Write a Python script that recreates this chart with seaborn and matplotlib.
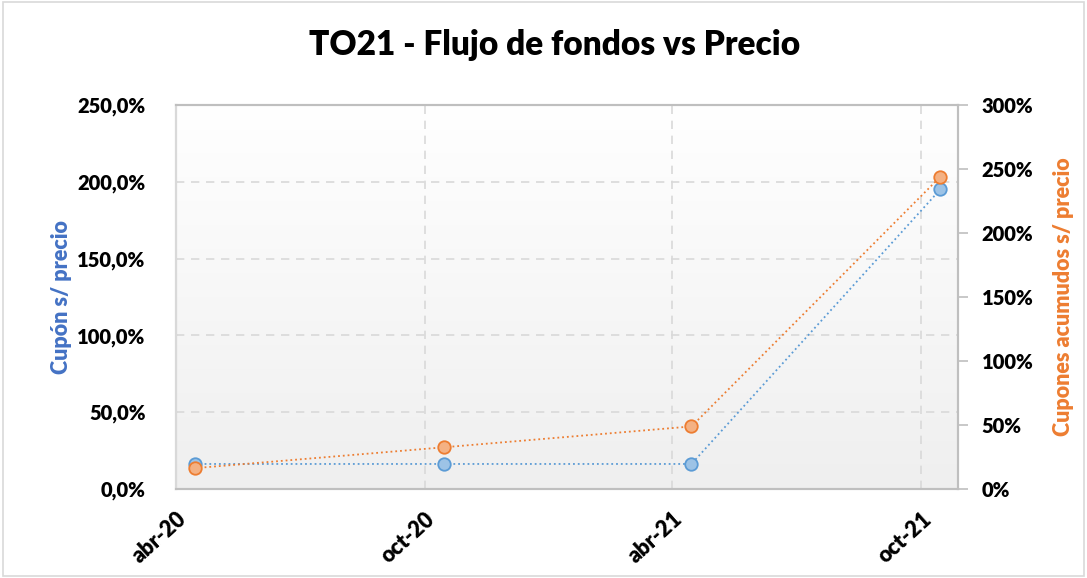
import numpy as np
import pandas as pd
import seaborn as sns
import matplotlib.pyplot as plt
from matplotlib.colors import LinearSegmentedColormap
from matplotlib.ticker import FuncFormatter, MultipleLocator

fechas = ["2020-04-15", "2020-10-15", "2021-04-15", "2021-10-15"]
cupon = [16.3, 16.3, 16.3, 195.2]          # Cupón s/ precio (%)
acumulado = [16.3, 32.6, 48.9, 244.1]      # Cupones acumulados s/ precio (%)
xticks = ["2020-04-01", "2020-10-01", "2021-04-01", "2021-10-01"]
xtick_labels = ["abr-20", "oct-20", "abr-21", "oct-21"]

df = pd.DataFrame({"fecha": pd.to_datetime(fechas), "cupon": cupon, "acumulado": acumulado})

sns.set_style("white")
plt.rcParams["font.family"] = ["Lato", "DejaVu Sans"]
plt.rcParams["text.color"] = "black"
W = "heavy"

fig = plt.figure(figsize=(10.87, 5.78), dpi=100)
ax = fig.add_axes([0.1619, 0.154, 0.7195, 0.664])
ax2 = ax.twinx()

# fondo degradado
grad = np.linspace(0, 1, 256).reshape(-1, 1)
ax.imshow(grad, extent=[0, 1, 0, 1], transform=ax.transAxes, aspect="auto",
          cmap=LinearSegmentedColormap.from_list("g", ["#efefef", "#ffffff"]),
          origin="lower", zorder=0)

sns.lineplot(data=df, x="fecha", y="cupon", ax=ax, color="#5b9bd5", linestyle=":", lw=1.3,
             marker="o", markersize=9, markerfacecolor="#9dc3e6", markeredgecolor="#5b9bd5",
             markeredgewidth=1.3, zorder=3)
sns.lineplot(data=df, x="fecha", y="acumulado", ax=ax2, color="#ed7d31", linestyle=":", lw=1.3,
             marker="o", markersize=9, markerfacecolor="#f4b183", markeredgecolor="#ed7d31",
             markeredgewidth=1.3, zorder=3)

ax.set_xlim(pd.Timestamp("2020-04-01"), pd.Timestamp("2021-10-28"))
ax.set_ylim(0, 250)
ax2.set_ylim(0, 300)
ax.yaxis.set_major_locator(MultipleLocator(50))
ax2.yaxis.set_major_locator(MultipleLocator(50))
ax.yaxis.set_major_formatter(FuncFormatter(lambda v, p: f"{v:.1f}%".replace(".", ",")))
ax2.yaxis.set_major_formatter(FuncFormatter(lambda v, p: f"{v:.0f}%"))

ax.set_xticks(pd.to_datetime(xticks))
ax.set_xticklabels(xtick_labels, rotation=42, ha="right", rotation_mode="anchor",
                   fontsize=15.5, fontweight=W, color="black")
ax.tick_params(axis="x", length=6, color="#bfbfbf", width=1.2, pad=8)
ax.tick_params(axis="y", length=0, labelsize=14.5, labelcolor="black", pad=22)
ax2.tick_params(axis="y", length=7, color="#bfbfbf", width=1.2, labelsize=14.5,
                labelcolor="black", pad=10)
for lab in ax.get_yticklabels() + ax2.get_yticklabels():
    lab.set_fontweight(W)

ax.grid(True, axis="both", color="#d9d9d9", linestyle=(0, (5, 4)), lw=1.2)
ax.set_axisbelow(True)

for a in (ax, ax2):
    a.set_xlabel("")
    for s in a.spines.values():
        s.set_color("#bfbfbf")
        s.set_linewidth(1.5)
ax2.spines["left"].set_color("#d9d9d9")

ax.set_ylabel("Cupón s/ precio", color="#4472c4", fontsize=15.5, fontweight=W, labelpad=4)
ax2.set_ylabel("Cupones acumudos s/ precio", color="#ed7d31", fontsize=15.5, fontweight=W,
               labelpad=14)

fig.suptitle("TO21 - Flujo de fondos vs Precio", fontsize=24, fontweight=W, x=0.51, y=0.95)
fig.patches.append(plt.Rectangle((0.003, 0.003), 0.994, 0.994, transform=fig.transFigure,
                                 fill=False, edgecolor="#d9d9d9", lw=1.2))

plt.savefig("out.png", dpi=100)
